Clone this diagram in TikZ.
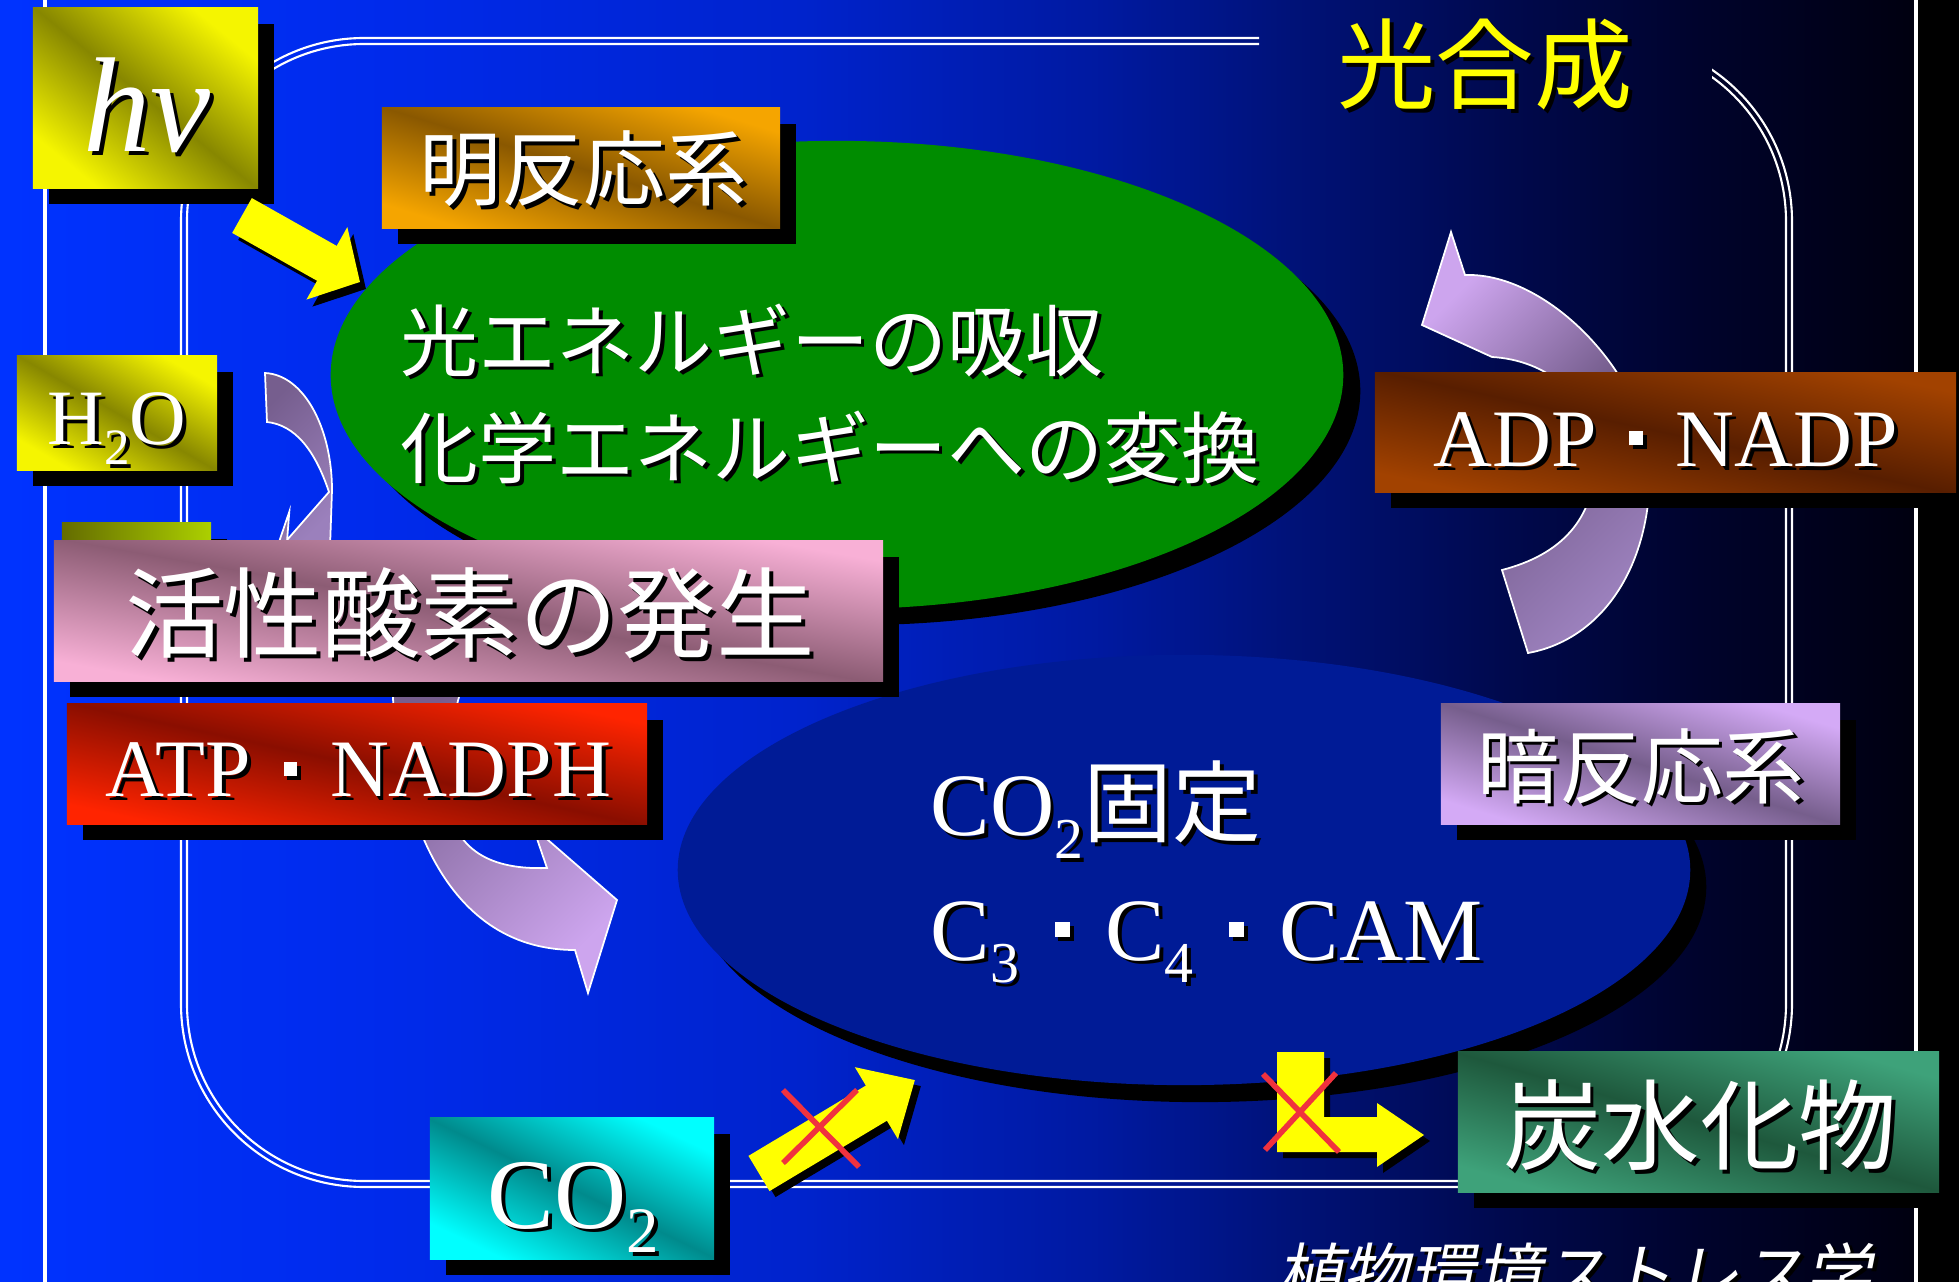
\documentclass[tikz,border=0pt]{standalone}
\usepackage{fontspec}
\usepackage{graphicx}
\setmainfont{Liberation Serif}
\newfontfamily\jp{Noto Sans CJK JP}
\newfontfamily\jpit{Noto Sans CJK JP}[FakeSlant=0.2]
\usetikzlibrary{shapes.geometric,arrows.meta,shadows}

\definecolor{tshadow}{RGB}{0,0,0}
\definecolor{ylw}{RGB}{255,255,0}
\definecolor{leafgreen}{RGB}{0,140,0}
\definecolor{calvin}{RGB}{0,27,150}
\definecolor{hvB}{RGB}{245,245,0}
\definecolor{hvD}{RGB}{135,135,0}
\definecolor{orB}{RGB}{245,165,0}
\definecolor{orD}{RGB}{138,88,0}
\definecolor{olB}{RGB}{172,208,0}
\definecolor{olD}{RGB}{100,108,0}
\definecolor{pkB}{RGB}{248,176,214}
\definecolor{pkD}{RGB}{140,92,116}
\definecolor{rdB}{RGB}{255,36,0}
\definecolor{rdD}{RGB}{138,14,0}
\definecolor{brB}{RGB}{162,66,0}
\definecolor{brD}{RGB}{88,30,0}
\definecolor{lvB}{RGB}{212,170,246}
\definecolor{lvD}{RGB}{118,94,140}
\definecolor{cyB}{RGB}{0,255,255}
\definecolor{cyD}{RGB}{0,138,140}
\definecolor{gnB}{RGB}{62,162,122}
\definecolor{gnD}{RGB}{30,88,60}
\definecolor{plL}{RGB}{205,165,238}
\definecolor{plD}{RGB}{118,94,142}
\definecolor{plM}{RGB}{155,128,188}
\definecolor{redx}{RGB}{240,50,62}

\pgfdeclarehorizontalshading{bgshade}{100bp}{rgb(0bp)=(0,0.2,1); rgb(25bp)=(0,0.2,1); rgb(35bp)=(0,0.165,0.92); rgb(45.5bp)=(0,0.137,0.8); rgb(53bp)=(0,0.1,0.63); rgb(58bp)=(0,0.07,0.47); rgb(63.5bp)=(0,0.035,0.3); rgb(68.5bp)=(0,0.012,0.17); rgb(73.5bp)=(0,0,0.07); rgb(75bp)=(0,0,0.03); rgb(100bp)=(0,0,0.03)}

\newcommand\stx[1]{\leavevmode\rlap{\kern1.1pt\raisebox{-1.1pt}{\color{tshadow}#1}}#1}
\newcommand\nak{\hspace{0.40em}\rule[0.26em]{0.17em}{0.17em}\hspace{0.40em}}
\newcommand\lsub[1]{\raisebox{-0.25em}{\scalebox{0.65}{#1}}}
\newcommand\fs[1]{\fontsize{#1}{#1}\selectfont}

\tikzset{
  sbox/.style={rectangle, inner sep=0pt, general shadow={fill=black, shadow xshift=0.16cm, shadow yshift=-0.16cm}},
  diag/.style n args={3}{top color=#1, bottom color=#1, middle color=#2, shading angle=#3},
  wt/.style={text=white, inner sep=0pt},
  parrow/.style={draw=white, line width=0.5pt},
  dline/.style={draw=white, line width=0.6pt},
  redcross/.style={draw=redx, line width=1.6pt},
}

\begin{document}
\begin{tikzpicture}[x=0.01cm,y=-0.01cm]
\useasboundingbox (0,0) rectangle (1959,1282);
\shade[shading=bgshade] (0,0) rectangle (1959,1282);
\fill[black] (1918,0) rectangle (1959,1282);
\draw[white, line width=1pt] (45,0) -- (45,1282);
\draw[white, line width=1pt] (1916,0) -- (1916,1282);

% double rounded frame with a gap for the title
\begin{scope}[even odd rule]
\clip (0,0) rectangle (1959,1282) (1259,20) -- (1712,20) -- (1712,79) -- (1259,58) -- cycle;
\draw[dline, rounded corners=1.83cm] (181,38) rectangle (1792,1187);
\draw[dline, rounded corners=1.77cm] (187,44) rectangle (1786,1181);
\end{scope}

% ellipses
\node[ellipse, fill=leafgreen, minimum width=10.12cm, minimum height=4.68cm, inner sep=0pt,
  general shadow={fill=black, shadow xshift=0.17cm, shadow yshift=-0.16cm}] (light) at (837,375) {};
\node[ellipse, fill=calvin, minimum width=10.12cm, minimum height=4.30cm, inner sep=0pt,
  general shadow={fill=black, shadow xshift=0.16cm, shadow yshift=-0.17cm}] (dark) at (1184,870) {};

% curved purple arrows
\path[parrow, top color=plD, bottom color=plM, shading angle=45]
  (265,373) .. controls (305,375) and (332,430) .. (332,490) -- (330,548) -- (280,548) -- (329,492)
  .. controls (315,450) and (295,425) .. (267,422) -- cycle;
\path[parrow, top color=plD, bottom color=plM, shading angle=45]
  (289.3,511.7) -- (286.5,548) -- (277,548) -- cycle;
\path[parrow, top color=plD, bottom color=plL, shading angle=45]
  (392,665) .. controls (392,800) and (440,950) .. (575,950) -- (588,993) -- (617,900) -- (533,827) -- (547,868)
  .. controls (490,870) and (455,850) .. (447,800) .. controls (443,760) and (455,700) .. (470,665) -- cycle;
\path[parrow, top color=plL, bottom color=plM, middle color=plD, shading angle=45]
  (1465,275) .. controls (1550,272) and (1650,380) .. (1650,470)
  .. controls (1650,570) and (1600,640) .. (1528,653) -- (1502,570)
  .. controls (1560,555) and (1595,520) .. (1595,460)
  .. controls (1595,395) and (1545,360) .. (1492,357) -- (1422,325) -- (1451,232) -- cycle;

% boxes
\node[sbox, diag={hvB}{hvD}{-39}, minimum width=2.25cm, minimum height=1.80cm] (hv) at (145.5,98) {};
\node[sbox, diag={orB}{orD}{-17}, minimum width=3.98cm, minimum height=1.20cm] (mei) at (581,168) {};
\node[sbox, diag={hvB}{hvD}{-30}, minimum width=2.00cm, minimum height=1.14cm] (h2o) at (117,413) {};
\node[sbox, top color=olD, bottom color=olB, shading angle=90, minimum width=1.49cm, minimum height=1.20cm] (olive) at (136.5,583) {};
\node[sbox, diag={pkB}{pkD}{-10}, minimum width=8.29cm, minimum height=1.40cm] (ros) at (468.5,611) {};
\node[sbox, diag={rdB}{rdD}{-12}, minimum width=5.80cm, minimum height=1.20cm] (atp) at (357,764) {};
\node[sbox, diag={brB}{brD}{-12}, minimum width=5.81cm, minimum height=1.19cm] (adp) at (1665.5,432.5) {};
\node[sbox, diag={lvB}{lvD}{-17}, minimum width=3.99cm, minimum height=1.20cm] (an) at (1640.5,764) {};
\node[sbox, diag={cyB}{cyD}{-26}, minimum width=2.84cm, minimum height=1.41cm] (co2) at (572,1188.5) {};
\node[sbox, diag={gnB}{gnD}{-16}, minimum width=4.81cm, minimum height=1.40cm] (tan) at (1698.5,1122) {};

% texts
\node[wt, anchor=base, font=\fs{38.4pt}\itshape] (hvt) at (147,152) {\stx{hν}};
\node[wt, anchor=base, font=\fs{22.3pt}] (h2ot) at (117,445) {\stx{H\lsub{2}O}};
\node[wt, font=\jp\fs{23.3pt}] (meit) at (583.5,171) {\stx{明反応系}};
\node[wt, font=\jp\fs{28pt}] (rost) at (470,615) {\stx{活性酸素の発生}};
\node[wt, anchor=west, font=\jp\fs{22.2pt}] (l1) at (400,342) {\stx{光エネルギーの吸収}};
\node[wt, anchor=west, font=\jp\fs{22.2pt}] (l2) at (400,449) {\stx{化学エネルギーへの変換}};
\node[text=ylw, inner sep=0pt, font=\jp\fs{28pt}] (title) at (1485,66) {\stx{光合成}};
\node[wt, font=\jp\fs{23.3pt}] (ant) at (1641,768) {\stx{暗反応系}};
\node[wt, font=\jp\fs{28pt}] (tant) at (1700,1127) {\stx{炭水化物}};
\node[wt, anchor=base, font=\fs{23.2pt}] (atpt) at (358.5,797) {\stx{ATP\nak NADPH}};
\node[wt, anchor=base, font=\fs{23.2pt}] (adpt) at (1665.5,466.5) {\stx{ADP\nak NADP}};
\node[wt, anchor=base, font=\fs{28.4pt}] (co2t) at (573.5,1228) {\stx{CO\lsub{2}}};
\node[wt, anchor=base west, font=\fs{25.3pt}] (fixt) at (930,836) {\stx{CO\lsub{2}{\jp 固定}}};
\node[wt, anchor=base west, font=\fs{25.3pt}] (c3t) at (930,960) {\stx{C\lsub{3}\nak C\lsub{4}\nak CAM}};
\node[wt, anchor=base west, font=\jpit\fs{18.8pt}] (foot) at (1276,1298) {\stx{植物環境ストレス学}};

% yellow arrows
\coordinate (hvA) at (242,215.5);
\coordinate (hvB) at (360,282);
\draw[black, line width=0.40cm, -{Triangle[width=0.81cm,length=0.38cm]}] ([shift={(6,7)}]hvA) -- ([shift={(6,7)}]hvB);
\draw[ylw, line width=0.40cm, -{Triangle[width=0.81cm,length=0.38cm]}] (hvA) -- (hvB);
\coordinate (coA) at (759,1173.5);
\coordinate (coB) at (915,1080);
\draw[black, line width=0.41cm, -{Triangle[width=0.81cm,length=0.45cm]}] ([shift={(6,6)}]coA) -- ([shift={(6,6)}]coB);
\draw[ylw, line width=0.41cm, -{Triangle[width=0.81cm,length=0.45cm]}] (coA) -- (coB);
\fill[black, shift={(6,6)}] (1277,1052) -- (1324,1052) -- (1324,1117) -- (1377,1117) -- (1377,1103) -- (1424,1135) -- (1377,1167) -- (1377,1152) -- (1277,1152) -- cycle;
\fill[ylw] (1277,1052) -- (1324,1052) -- (1324,1117) -- (1377,1117) -- (1377,1103) -- (1424,1135) -- (1377,1167) -- (1377,1152) -- (1277,1152) -- cycle;

% red crosses
\draw[redcross] (783,1090) -- (859,1167);
\draw[redcross] (857,1090) -- (783,1163);
\draw[redcross] (1263,1074) -- (1339,1152);
\draw[redcross] (1336,1073) -- (1265,1150);
\end{tikzpicture}
\end{document}
